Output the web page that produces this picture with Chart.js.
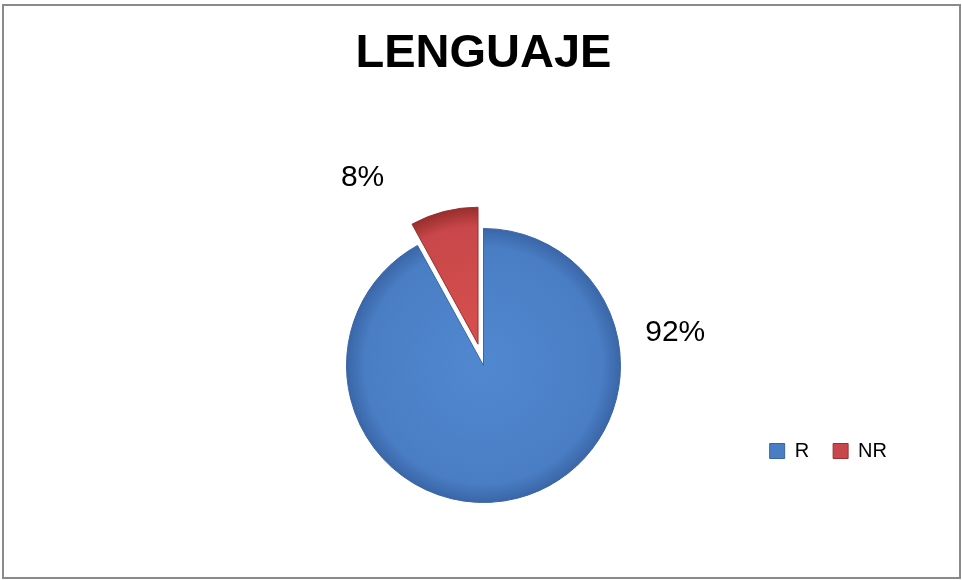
<!DOCTYPE html>
<html>
<head>
<meta charset="utf-8">
<script src="https://cdn.jsdelivr.net/npm/chart.js@4/dist/chart.umd.min.js"></script>
<style>
  html, body { margin: 0; padding: 0; background: #ffffff; }
  #frame { position: absolute; left: 2px; top: 4px; width: 955px; height: 571px; border: 2px solid #8a8a8a; }
  #c { position: absolute; left: 0; top: 0; }
</style>
</head>
<body>
<div id="frame"></div>
<canvas id="c" width="962" height="580"></canvas>
<script>
// ---- data ----
const chartTitle = 'LENGUAJE';
const categories = ['R', 'NR'];
const percentValues = [92, 8];
const valueLabels = ['92%', '8%'];

// ---- styling ----
const seriesColors = ['#4a7ec4', '#c9474a'];
const seriesEdge = ['#3a65a6', '#9c312f'];
const gradientStops = [
  ['#5088d0', '#4a7ec4', '#3a66a8'],
  ['#d6504d', '#c9474a', '#982e2c']
];
const sliceExplode = [0, 22];            // px pulled out along bisector
const labelAngleDeg = [-9.7, -124.7];    // label direction from slice centre
const labelDistFactor = [1.42, 1.48];    // times radius
const FONT = '"Liberation Sans", Arial, sans-serif';
const PIE_RADIUS = 137;

function sliceMid(i) {
  const total = percentValues.reduce((a, b) => a + b, 0);
  let before = 0;
  for (let k = 0; k < i; k++) before += percentValues[k];
  const start = -Math.PI / 2 + before / total * 2 * Math.PI;
  const end = start + percentValues[i] / total * 2 * Math.PI;
  return (start + end) / 2;
}

function sliceFill(ctx) {
  const i = ctx.dataIndex;
  const a = ctx.chart.chartArea;
  if (!a || ctx.type !== 'data') return seriesColors[i];
  const mid = sliceMid(i);
  const cx = (a.left + a.right) / 2 + Math.cos(mid) * sliceExplode[i];
  const cy = (a.top + a.bottom) / 2 + Math.sin(mid) * sliceExplode[i];
  const g = ctx.chart.ctx.createRadialGradient(cx, cy, 0, cx, cy, PIE_RADIUS);
  const s = gradientStops[i];
  g.addColorStop(0, s[0]);
  g.addColorStop(0.86, s[1]);
  g.addColorStop(1, s[2]);
  return g;
}

const explodePlugin = {
  id: 'explode',
  afterDatasetsUpdate(chart) {
    const meta = chart.getDatasetMeta(0);
    meta.data.forEach((arc, i) => {
      const d = sliceExplode[i] || 0;
      if (!d) return;
      const mid = (arc.startAngle + arc.endAngle) / 2;
      arc.x += Math.cos(mid) * d;
      arc.y += Math.sin(mid) * d;
    });
  }
};

const valueLabelPlugin = {
  id: 'valueLabels',
  afterDatasetsDraw(chart) {
    const ctx = chart.ctx;
    const meta = chart.getDatasetMeta(0);
    ctx.save();
    ctx.font = '30px ' + FONT;
    ctx.fillStyle = '#000000';
    ctx.textAlign = 'center';
    ctx.textBaseline = 'middle';
    meta.data.forEach((arc, i) => {
      const ang = labelAngleDeg[i] * Math.PI / 180;
      const r = arc.outerRadius * labelDistFactor[i];
      ctx.fillText(valueLabels[i], arc.x + Math.cos(ang) * r, arc.y + Math.sin(ang) * r);
    });
    ctx.restore();
  }
};

new Chart(document.getElementById('c'), {
  type: 'pie',
  data: {
    labels: categories,
    datasets: [{
      data: percentValues,
      backgroundColor: sliceFill,
      borderColor: seriesEdge,
      borderWidth: 1,
      clip: false
    }]
  },
  options: {
    responsive: false,
    animation: false,
    radius: PIE_RADIUS,
    layout: { padding: { left: 56, right: 51, top: 0, bottom: 109 } },
    plugins: {
      title: {
        display: true,
        text: chartTitle,
        color: '#000000',
        font: { family: FONT, size: 47, weight: 'bold', lineHeight: 1.2 },
        padding: { top: 26, bottom: 231.6 }
      },
      legend: {
        position: 'bottom',
        align: 'end',
        labels: {
          boxWidth: 15,
          boxHeight: 15,
          padding: 24,
          color: '#000000',
          font: { family: FONT, size: 20 },
          generateLabels(chart) {
            const items = Chart.overrides.pie.plugins.legend.labels.generateLabels(chart);
            items.forEach((it, i) => { it.fillStyle = seriesColors[i]; it.strokeStyle = seriesEdge[i]; it.lineWidth = 1; });
            return items;
          }
        }
      },
      tooltip: { enabled: false }
    }
  },
  plugins: [explodePlugin, valueLabelPlugin]
});
</script>
</body>
</html>
